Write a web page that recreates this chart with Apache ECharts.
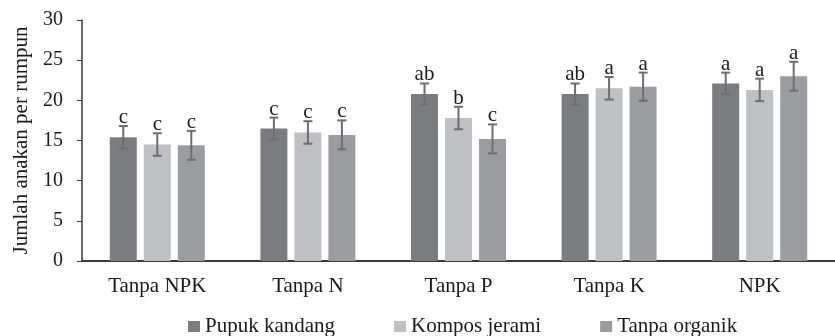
<!DOCTYPE html>
<html>
<head>
<meta charset="utf-8">
<script src="https://cdn.jsdelivr.net/npm/echarts@6/dist/echarts.min.js"></script>
<style>html,body{margin:0;padding:0;background:#fff}#c{width:835px;height:336px}</style>
</head>
<body>
<div id="c"></div>
<script>
const categories = ['Tanpa NPK', 'Tanpa N', 'Tanpa P', 'Tanpa K', 'NPK'];
const seriesNames = ['Pupuk kandang', 'Kompos jerami', 'Tanpa organik'];
const pupukKandang = [15.4, 16.5, 20.8, 20.8, 22.1];
const komposJerami = [14.5, 16.0, 17.8, 21.5, 21.3];
const tanpaOrganik = [14.4, 15.7, 15.2, 21.7, 23.0];
const errPupukKandang = [1.4, 1.35, 1.3, 1.3, 1.35];
const errKomposJerami = [1.4, 1.4, 1.4, 1.4, 1.4];
const errTanpaOrganik = [1.8, 1.8, 1.8, 1.75, 1.8];
const lettersPupukKandang = ['c', 'c', 'ab', 'ab', 'a'];
const lettersKomposJerami = ['c', 'c', 'b', 'a', 'a'];
const lettersTanpaOrganik = ['c', 'c', 'c', 'a', 'a'];
const yTicks = [0, 5, 10, 15, 20, 25, 30];

const means = [pupukKandang, komposJerami, tanpaOrganik];
const errs = [errPupukKandang, errKomposJerami, errTanpaOrganik];
const letters = [lettersPupukKandang, lettersKomposJerami, lettersTanpaOrganik];
const colors = ['#7b7c80', '#bfc0c4', '#9b9ca0'];
const FONT = 'Liberation Serif';
const BAR_W = 27, BAR_GAP = 7;

const chart = echarts.init(document.getElementById('c'), null, {renderer: 'canvas'});
const series = [];
means.forEach((m, i) => {
  series.push({
    name: seriesNames[i], type: 'bar', data: m,
    barWidth: BAR_W, barGap: (BAR_GAP / BAR_W * 100) + '%',
    itemStyle: {color: colors[i]}, emphasis: {disabled: true}
  });
});
means.forEach((m, i) => {
  const data = m.map((v, k) => [k, v, errs[i][k], letters[i][k]]);
  series.push({
    type: 'custom', name: seriesNames[i] + ' err', data: data, z: 5,
    renderItem: function (params, api) {
      const k = api.value(0), v = api.value(1), e = api.value(2);
      const off = (i - 1) * (BAR_W + BAR_GAP);
      const top = api.coord([k, v + e]);
      const bot = api.coord([k, v - e]);
      const x = top[0] + off;
      const cap = 4.5;
      const st = {stroke: '#6e6e70', lineWidth: 2};
      return {
        type: 'group', children: [
          {type: 'line', shape: {x1: x, y1: top[1], x2: x, y2: bot[1]}, style: st},
          {type: 'line', shape: {x1: x - cap, y1: top[1], x2: x + cap, y2: top[1]}, style: st},
          {type: 'line', shape: {x1: x - cap, y1: bot[1], x2: x + cap, y2: bot[1]}, style: st},
          {type: 'text', style: {text: data[params.dataIndex][3], x: x, y: top[1] + 2,
            align: 'center', verticalAlign: 'bottom', fontFamily: FONT, fontSize: 21, fill: '#1a1a1a'}}
        ]
      };
    }
  });
});

chart.setOption({
  animation: false,
  textStyle: {fontFamily: FONT},
  grid: {left: 82, right: 0, top: 20, bottom: 75, containLabel: false},
  legend: {
    data: seriesNames, top: 311, left: 183, itemWidth: 12, itemHeight: 11, itemGap: 59,
    icon: 'rect', textStyle: {fontFamily: FONT, fontSize: 21, color: '#1a1a1a'}
  },
  xAxis: {
    type: 'category', data: categories,
    axisLine: {lineStyle: {color: '#3a3a3a', width: 2}},
    axisTick: {show: false},
    axisLabel: {fontFamily: FONT, fontSize: 21, color: '#1a1a1a', margin: 15}
  },
  yAxis: {
    type: 'value', min: 0, max: 30, interval: 5,
    name: 'Jumlah anakan per rumpun', nameLocation: 'middle', nameGap: 50,
    nameTextStyle: {fontFamily: FONT, fontSize: 21, color: '#1a1a1a'},
    axisLine: {show: true, lineStyle: {color: '#3a3a3a', width: 1.5}},
    axisTick: {show: true, length: 5, lineStyle: {color: '#3a3a3a'}},
    splitLine: {show: false},
    axisLabel: {fontFamily: FONT, fontSize: 20, color: '#1a1a1a', margin: 19,
      formatter: v => yTicks.includes(v) ? String(v) : ''}
  },
  series: series
});
</script>
</body>
</html>
